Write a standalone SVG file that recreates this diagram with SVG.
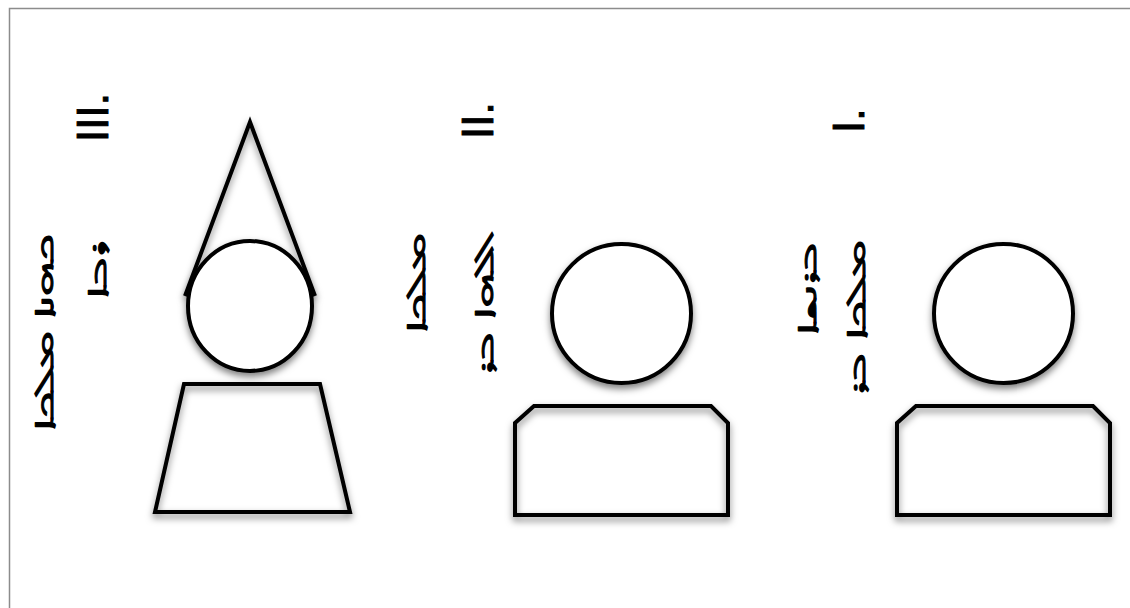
<svg xmlns="http://www.w3.org/2000/svg" width="1130" height="608" viewBox="0 0 1130 608">
<style>
.ln{fill:none;stroke:#000;stroke-width:4;stroke-linejoin:miter}
.hd{fill:#fff;stroke:#000;stroke-width:4}
.num{font-family:'Liberation Sans',Arial,sans-serif;font-size:44px;fill:#000;stroke:#000;stroke-width:0.9}
.syr{font-family:'Noto Sans Syriac Western','Noto Sans Syriac',serif;font-size:48px;fill:#000;stroke:#000;stroke-width:1.8;stroke-linejoin:round}
</style>
<defs>
<filter id="sh" x="-20%" y="-20%" width="140%" height="150%">
<feDropShadow dx="0" dy="4" stdDeviation="3.5" flood-color="#000" flood-opacity="0.5"/>
</filter>
</defs>
<rect width="1130" height="608" fill="#fff"/>
<path d="M9.5,608 V8.5 H1130" fill="none" stroke="#8c8c8c" stroke-width="1.5"/>

<g id="figure-3">
<path class="ln" d="M185,296 L250,122 L315,296" filter="url(#sh)"/>
<ellipse class="hd" cx="250" cy="306" rx="62" ry="65" filter="url(#sh)"/>
<path class="ln" d="M184,384 L320,384 L350,512 L155,512 Z" filter="url(#sh)"/>
<text class="num" transform="translate(108,142) rotate(-90)">III.</text>
<text class="syr" direction="rtl" transform="translate(53,233) rotate(-90) scale(1,0.55)">ܟܗܢܐ ܡܠܟܐ</text>
<text class="syr" direction="rtl" transform="translate(106,240) rotate(-90) scale(1,0.55)">ܪܒܐ</text>
</g>

<g id="figure-2">
<circle class="hd" cx="621.5" cy="313.5" r="69.5" filter="url(#sh)"/>
<path class="ln" d="M515,423 L534,406 L711,406 L728,423 L728,515 L515,515 Z" filter="url(#sh)"/>
<text class="num" transform="translate(493,139) rotate(-90)">II.</text>
<text class="syr" direction="rtl" transform="translate(425,233) rotate(-90) scale(1,0.55)">ܡܠܟܐ</text>
<text class="syr" direction="rtl" transform="translate(493,230) rotate(-90) scale(1,0.55)">ܐܠܗܐ ܒܪ</text>
</g>

<g id="figure-1">
<circle class="hd" cx="1003.5" cy="313.5" r="69.5" filter="url(#sh)"/>
<path class="ln" d="M897,423 L916,406 L1093,406 L1110,423 L1110,515 L897,515 Z" filter="url(#sh)"/>
<text class="num" transform="translate(864,133) rotate(-90)">I.</text>
<text class="syr" direction="rtl" transform="translate(816,242) rotate(-90) scale(1,0.55)">ܒܪܢܫܐ</text>
<text class="syr" direction="rtl" transform="translate(865,240) rotate(-90) scale(1,0.55)">ܡܠܟܐ ܒܪ</text>
</g>

<g id="connectors"></g>
</svg>
